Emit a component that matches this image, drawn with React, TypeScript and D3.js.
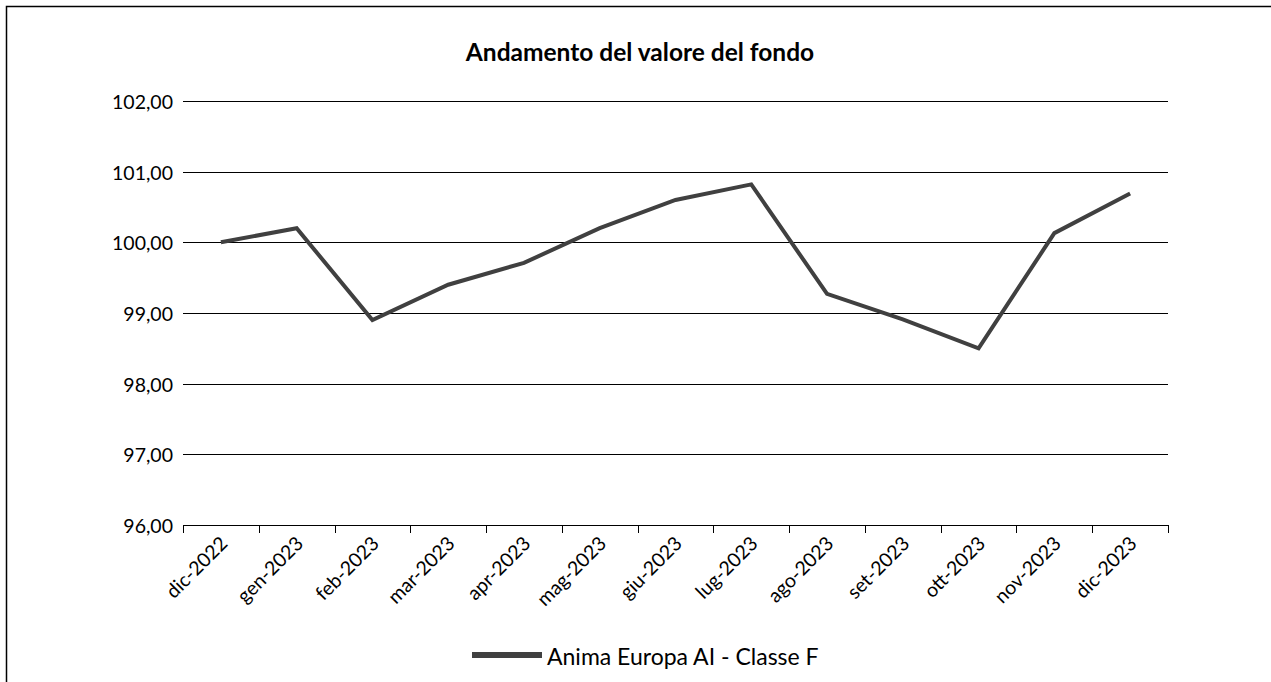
import React, { useEffect, useRef } from "react";
import * as d3 from "d3";

const months = [
  "dic-2022", "gen-2023", "feb-2023", "mar-2023", "apr-2023", "mag-2023", "giu-2023",
  "lug-2023", "ago-2023", "set-2023", "ott-2023", "nov-2023", "dic-2023",
];
const fundValues = [
  100.0, 100.2, 98.9, 99.4, 99.71, 100.2, 100.6, 100.82, 99.27, 98.91, 98.5, 100.13, 100.69,
];
const yTicks = [96, 97, 98, 99, 100, 101, 102];
const seriesName = "Anima Europa AI - Classe F";
const chartTitle = "Andamento del valore del fondo";

export default function App() {
  const svgRef = useRef<SVGSVGElement>(null);

  useEffect(() => {
    const svg = d3.select(svgRef.current);
    svg.selectAll("*").remove();
    const width = 1271;
    const height = 682;
    const font = "Lato, 'Open Sans', sans-serif";
    const left = 183, right = 1168, top = 101, bottom = 525;

    // outer frame, runs off the right and bottom edges
    svg.append("rect")
      .attr("x", 6.5).attr("y", 6.5)
      .attr("width", width + 20).attr("height", height + 20)
      .attr("fill", "white").attr("stroke", "black").attr("stroke-width", 1.5);

    const x = d3.scaleBand().domain(months).range([left, right]);
    const y = d3.scaleLinear().domain([96, 102]).range([bottom, top]);

    svg.append("text")
      .attr("x", 640).attr("y", 61)
      .attr("text-anchor", "middle")
      .attr("font-family", font).attr("font-weight", 700).attr("font-size", 24.5)
      .text(chartTitle);

    // gridlines
    svg.append("g").selectAll("line").data(yTicks).join("line")
      .attr("x1", left).attr("x2", right)
      .attr("y1", (d) => Math.round(y(d)) + 0.5).attr("y2", (d) => Math.round(y(d)) + 0.5)
      .attr("stroke", "black").attr("stroke-width", 1);

    svg.append("g").selectAll("text").data(yTicks).join("text")
      .attr("x", left - 10).attr("y", (d) => y(d) + 8)
      .attr("text-anchor", "end")
      .attr("font-family", font).attr("font-size", 19.5)
      .text((d) => d3.format(".2f")(d).replace(".", ","));

    // category ticks at band edges
    const edges = months.map((m) => x(m) as number).concat([right]);
    svg.append("g").selectAll("line").data(edges).join("line")
      .attr("x1", (d) => Math.round(d) + 0.5).attr("x2", (d) => Math.round(d) + 0.5)
      .attr("y1", bottom).attr("y2", bottom + 8)
      .attr("stroke", "black");

    svg.append("g").selectAll("text").data(months).join("text")
      .attr("transform", (d) => `translate(${(x(d) as number) + x.bandwidth() / 2 + 3},${bottom + 15}) rotate(-45)`)
      .attr("text-anchor", "end")
      .attr("dy", "0.35em")
      .attr("font-family", font).attr("font-size", 19.5)
      .text((d) => d);

    const line = d3.line<number>()
      .x((_, i) => (x(months[i]) as number) + x.bandwidth() / 2)
      .y((d) => y(d));

    svg.append("path")
      .datum(fundValues)
      .attr("fill", "none")
      .attr("stroke", "#404040")
      .attr("stroke-width", 4)
      .attr("stroke-linejoin", "miter")
      .attr("d", line);

    // legend
    svg.append("line")
      .attr("x1", 472).attr("x2", 542).attr("y1", 655).attr("y2", 655)
      .attr("stroke", "#404040").attr("stroke-width", 6);
    svg.append("text")
      .attr("x", 547).attr("y", 665)
      .attr("font-family", font).attr("font-size", 23)
      .text(seriesName);
  }, []);

  return (
    <svg
      ref={svgRef}
      width={1271}
      height={682}
      style={{ position: "absolute", left: 0, top: 0, display: "block" }}
    />
  );
}
